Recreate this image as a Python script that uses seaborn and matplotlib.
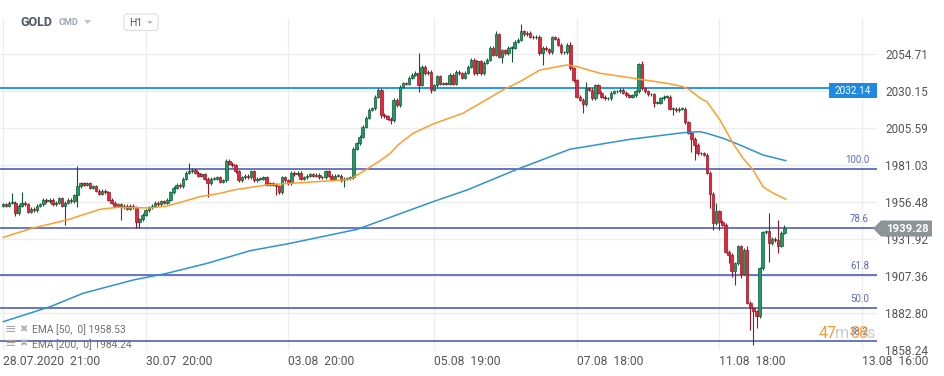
import matplotlib
matplotlib.use("Agg")
import matplotlib.pyplot as plt
from matplotlib.patches import Polygon, FancyBboxPatch
import numpy as np
import seaborn as sns

# hourly closes (bar 0 = 28.07.2020 21:00)
closes = [
    1955, 1954, 1956, 1956, 1949, 1954, 1956, 1955, 1950, 1952,
    1951, 1954, 1955, 1958, 1957, 1958, 1955, 1956, 1959, 1954,
    1956, 1958, 1957, 1961, 1967, 1969, 1968, 1969, 1966, 1967,
    1964, 1962, 1964, 1963, 1958, 1956, 1954, 1955, 1953, 1954,
    1952, 1954, 1953, 1943, 1945, 1948, 1951, 1953, 1954, 1956,
    1955, 1957, 1956, 1958, 1963, 1966, 1968, 1967, 1972, 1976,
    1977, 1978, 1976, 1974, 1975, 1972, 1969, 1972, 1972, 1973,
    1970, 1971, 1984, 1982, 1981, 1977, 1971, 1973, 1974, 1973,
    1977, 1971, 1972, 1972, 1973, 1968, 1969, 1968, 1967, 1963,
    1973, 1971, 1969, 1976, 1975, 1976, 1972, 1973, 1974, 1975,
    1974, 1974.5, 1973, 1973, 1977, 1974, 1972, 1974, 1974, 1971,
    1972, 1972.5, 1973, 1992, 1995.5, 2000, 2006.5, 2012.5, 2018, 2019,
    2026.5, 2031, 2014.5, 2013.5, 2012, 2011, 2024.5, 2021, 2033, 2035.5,
    2035, 2039, 2041, 2042.5, 2034.5, 2046.5, 2042, 2043, 2031, 2034,
    2040, 2035, 2035.5, 2035, 2041, 2035, 2043, 2042, 2039, 2042.5,
    2046.5, 2051, 2042, 2050, 2042, 2049, 2051, 2059, 2054.5, 2068,
    2053, 2057.5, 2055.5, 2059, 2059, 2063, 2064.5, 2070, 2068, 2069,
    2066.5, 2066, 2066.5, 2055.5, 2059, 2058, 2056, 2066, 2065, 2061,
    2056, 2056, 2061, 2045.5, 2037.5, 2026.5, 2024.5, 2021.5, 2032, 2031,
    2025.5, 2034, 2029, 2026.5, 2025.5, 2025.5, 2029, 2030, 2030, 2031,
    2029, 2027.5, 2026.5, 2027.5, 2030, 2048, 2032, 2030, 2028, 2028,
    2022.5, 2022.5, 2025.5, 2026.5, 2026.5, 2018.5, 2018.5, 2017.5, 2018.5, 2018.5,
    2009.5, 2002.5, 1998.5, 1994.5, 1989, 1989, 1988, 1976, 1962, 1942.5,
    1950.5, 1943.5, 1941.5, 1923.5, 1921.5, 1911, 1916, 1927, 1909, 1925,
    1889.5, 1886, 1884, 1880.5, 1912.5, 1936.5, 1937, 1929, 1932, 1931,
    1927.5, 1936, 1939.28,
]
first_open = 1954.0

# the longer wicks that stand out
hi_wicks = {3: 1962.5, 6: 1963.5, 24: 1980.5, 60: 1982.3, 72: 1985, 134: 2055.4,
            159: 2070, 167: 2074.8, 183: 2063, 188: 2036.5, 206: 2050.5, 230: 1955.7,
            237: 1928, 238: 1927, 240: 1927, 247: 1949, 250: 1944.6, 252: 1941.5}
lo_wicks = {4: 1947, 20: 1941.3, 24: 1953.4, 38: 1944.6, 43: 1939.3, 44: 1939.3,
            66: 1960, 88: 1961.2, 110: 1966.7, 122: 2012.2, 125: 2008.5, 134: 2029.9,
            138: 2028.8, 161: 2049, 164: 2049.8, 174: 2047.5, 187: 2015.5, 210: 2019.5,
            216: 2014.4, 222: 1990, 223: 1984.5, 228: 1952.4, 229: 1937.9, 231: 1937.9,
            234: 1916, 235: 1907, 236: 1901.4, 238: 1906, 241: 1871.5, 242: 1861.5,
            243: 1872.9, 247: 1917, 250: 1922.5}

ema50_pos = [0, 9.7, 20.6, 31.3, 36.8, 47.4, 52.9, 58, 63.5, 70, 74.2, 85.1, 95.8,
             106.4, 111.9, 115.1, 118.4, 121.6, 124.9, 127.4, 132.2, 138.7, 148.3,
             154.8, 161.2, 166.7, 173.2, 181.9, 185.1, 192.5, 203.2, 214.1, 219.3,
             221.5, 224.8, 227, 231.2, 235.4, 238.6, 241.9, 245.1, 248.3, 252.5]
ema50_val = [1933.0, 1939.3, 1944.6, 1951.7, 1953.0, 1952.6, 1953.9, 1956.8, 1960.1,
             1962.3, 1964.5, 1967.9, 1969.4, 1970.7, 1971.6, 1975.6, 1979.8, 1984.0,
             1988.9, 1994.5, 2002.2, 2008.4, 2015.5, 2023.2, 2031.0, 2036.5, 2044.3,
             2047.6, 2046.5, 2042.1, 2038.8, 2035.4, 2033.2, 2031.0, 2025.5, 2023.2,
             2011.1, 1995.6, 1985.8, 1977.8, 1966.7, 1962.5, 1958.4]
ema200_pos = [0, 15.2, 25.8, 41.9, 52.9, 65.8, 79.7, 92.6, 114.2, 122.5, 138.7, 149.6,
              165.8, 182.8, 202.2, 219.3, 224.8, 227, 232.2, 237.7, 245.1, 252.5]
ema200_val = [1877.0, 1887.0, 1895.9, 1904.7, 1909.2, 1915.8, 1924.2, 1929.1, 1938.4,
              1944.6, 1956.8, 1964.5, 1978.3, 1991.6, 1998.2, 2002.6, 2003.3, 2002.2,
              1998.9, 1994.4, 1987.8, 1984.0]

price_ticks = [2054.71, 2030.15, 2005.59, 1981.03, 1956.48, 1931.92, 1907.36, 1882.80, 1858.24]
date_pos = [0, 46, 92, 139, 185, 231, 277]
date_labels = ["28.07.2020  21:00", "30.07  20:00", "03.08  20:00", "05.08  19:00",
               "07.08  18:00", "11.08  18:00", "13.08  16:00"]
fib_labels = ["100.0", "78.6", "61.8", "50.0", "38.2"]
fib_levels = [1978.3, 1939.1, 1907.9, 1885.9, 1864.2]
hline_level = 2032.14
last_price = 1939.28

GREEN, GREEN_EDGE = "#1f9a62", "#0b5a35"
RED, RED_EDGE = "#e3263a", "#9a1522"

sns.set_theme(style="white")
plt.rcParams["font.family"] = ["Roboto", "DejaVu Sans"]

fig = plt.figure(figsize=(9.45, 3.76), dpi=100)
ax = fig.add_axes([0, 26 / 376, 877 / 945, 332 / 376])

# candles
c = np.array(closes, dtype=float)
o = np.array([first_open] + closes[:-1], dtype=float)
idx = np.arange(len(c))
up = c >= o
highs = np.maximum(o, c) + 1.0
lows = np.minimum(o, c) - 1.0
for k, v in hi_wicks.items():
    highs[k] = max(highs[k], v)
for k, v in lo_wicks.items():
    lows[k] = min(lows[k], v)
body_lo = np.minimum(o, c)
body_h = np.maximum(np.abs(c - o), 0.4)

ax.vlines(idx[up], lows[up], highs[up], color=GREEN_EDGE, lw=0.8, zorder=3)
ax.vlines(idx[~up], lows[~up], highs[~up], color=RED_EDGE, lw=0.8, zorder=3)
ax.bar(idx[up], body_h[up], bottom=body_lo[up], width=0.8, color=GREEN,
       edgecolor=GREEN_EDGE, linewidth=0.5, zorder=4)
ax.bar(idx[~up], body_h[~up], bottom=body_lo[~up], width=0.8, color=RED,
       edgecolor=RED_EDGE, linewidth=0.5, zorder=4)

# moving averages
sns.lineplot(x=ema200_pos, y=ema200_val, ax=ax, color="#2e93d4", lw=1.1, zorder=5)
sns.lineplot(x=ema50_pos, y=ema50_val, ax=ax, color="#ff9d2b", lw=1.1, zorder=5)

# horizontal levels
ax.axhline(hline_level, color="#2196f3", lw=1.4, zorder=2)
for lbl, lvl in zip(fib_labels, fib_levels):
    ax.axhline(lvl, color="#3f51b5", lw=1.1, zorder=2)
    ax.annotate(lbl, xy=(0.991, lvl), xycoords=("axes fraction", "data"),
                xytext=(0, 3), textcoords="offset points", ha="right", va="bottom",
                fontsize=7, color="#5c6bc0", zorder=6)

ax.set_xlim(-0.97, 281.85)
ax.set_ylim(1858.24, 2078.8)
ax.set_yticks(price_ticks)
ax.set_yticklabels([f"{p:.2f}" for p in price_ticks])
ax.set_xticks(date_pos)
ax.set_xticklabels(date_labels)
for t in ax.get_xticklabels():
    t.set_horizontalalignment("left")
ax.yaxis.tick_right()
ax.tick_params(axis="y", length=0, pad=5.8, labelsize=8.5, labelcolor="#555555")
ax.tick_params(axis="x", length=0, pad=3.5, labelsize=8.7, labelcolor="#555555")
ax.grid(True, color="#ededed", lw=1)
ax.set_axisbelow(True)
for s in ax.spines.values():
    s.set_visible(False)
ax.set_xlabel("")
ax.set_ylabel("")

# overlay in pixel coordinates for the widgets
ov = fig.add_axes([0, 0, 1, 1], zorder=5)
ov.set_xlim(0, 945)
ov.set_ylim(376, 0)
ov.axis("off")
ov.patch.set_alpha(0)

ov.text(20.5, 22.5, "GOLD", fontsize=9, fontweight="bold", color="#4d5861", va="center")
ov.text(58.5, 22.5, "CMD", fontsize=6.5, fontweight="bold", color="#9aa6b0", va="center")
ov.add_patch(Polygon([(84, 20), (91, 20), (87.5, 24)], fc="#bcc3c8", ec="none"))
ov.add_patch(FancyBboxPatch((124, 14), 34, 16.5, boxstyle="round,pad=0,rounding_size=3",
                            fc="white", ec="#dddddd", lw=0.8))
ov.text(129, 22.5, "H1", fontsize=7.5, color="#555555", va="center")
ov.add_patch(Polygon([(147, 21), (153, 21), (150, 24)], fc="#bbbbbb", ec="none"))

# blue level tag
ov.add_patch(FancyBboxPatch((829, 83), 48, 15, boxstyle="square,pad=0", fc="#1e88e5", ec="none"))
ov.text(853, 90.5, f"{hline_level:.2f}", fontsize=7.2, color="white", ha="center", va="center")

# last price tag
ov.add_patch(Polygon([(873, 228.5), (881, 220.5), (932, 220.5), (932, 236.5), (881, 236.5)],
                     fc="#8c9497", ec="none"))
ov.text(907, 228.8, f"{last_price:.2f}", fontsize=8.2, fontweight="bold", color="white",
        ha="center", va="center")

# indicator legend
for yy, txt in [(329, "EMA [50,  0] 1958.53"), (343.5, "EMA [200,  0] 1984.24")]:
    ov.text(5, yy, "\u2261", fontsize=10, color="#a8a8a8", va="center", family="DejaVu Sans")
    ov.text(19, yy, "\u2716", fontsize=7, color="#b0b0b0", va="center", family="DejaVu Sans")
    ov.text(31.5, yy + 1, txt, fontsize=7.4, color="#6f6f6f", va="center")

# countdown (drawn over the 38.2 label, as in the source)
ov.text(818.5, 337.5, "47", fontsize=11.5, color="#f7931e", alpha=0.9)
ov.text(834.5, 337.5, "m", fontsize=11.5, color="#c4c4c4", alpha=0.9)
ov.text(850, 337.5, "08", fontsize=11.5, color="#f7931e", alpha=0.85)
ov.text(866, 337.5, "s", fontsize=11.5, color="#c4c4c4", alpha=0.9)

fig.savefig("out.png", dpi=100, facecolor="white")
